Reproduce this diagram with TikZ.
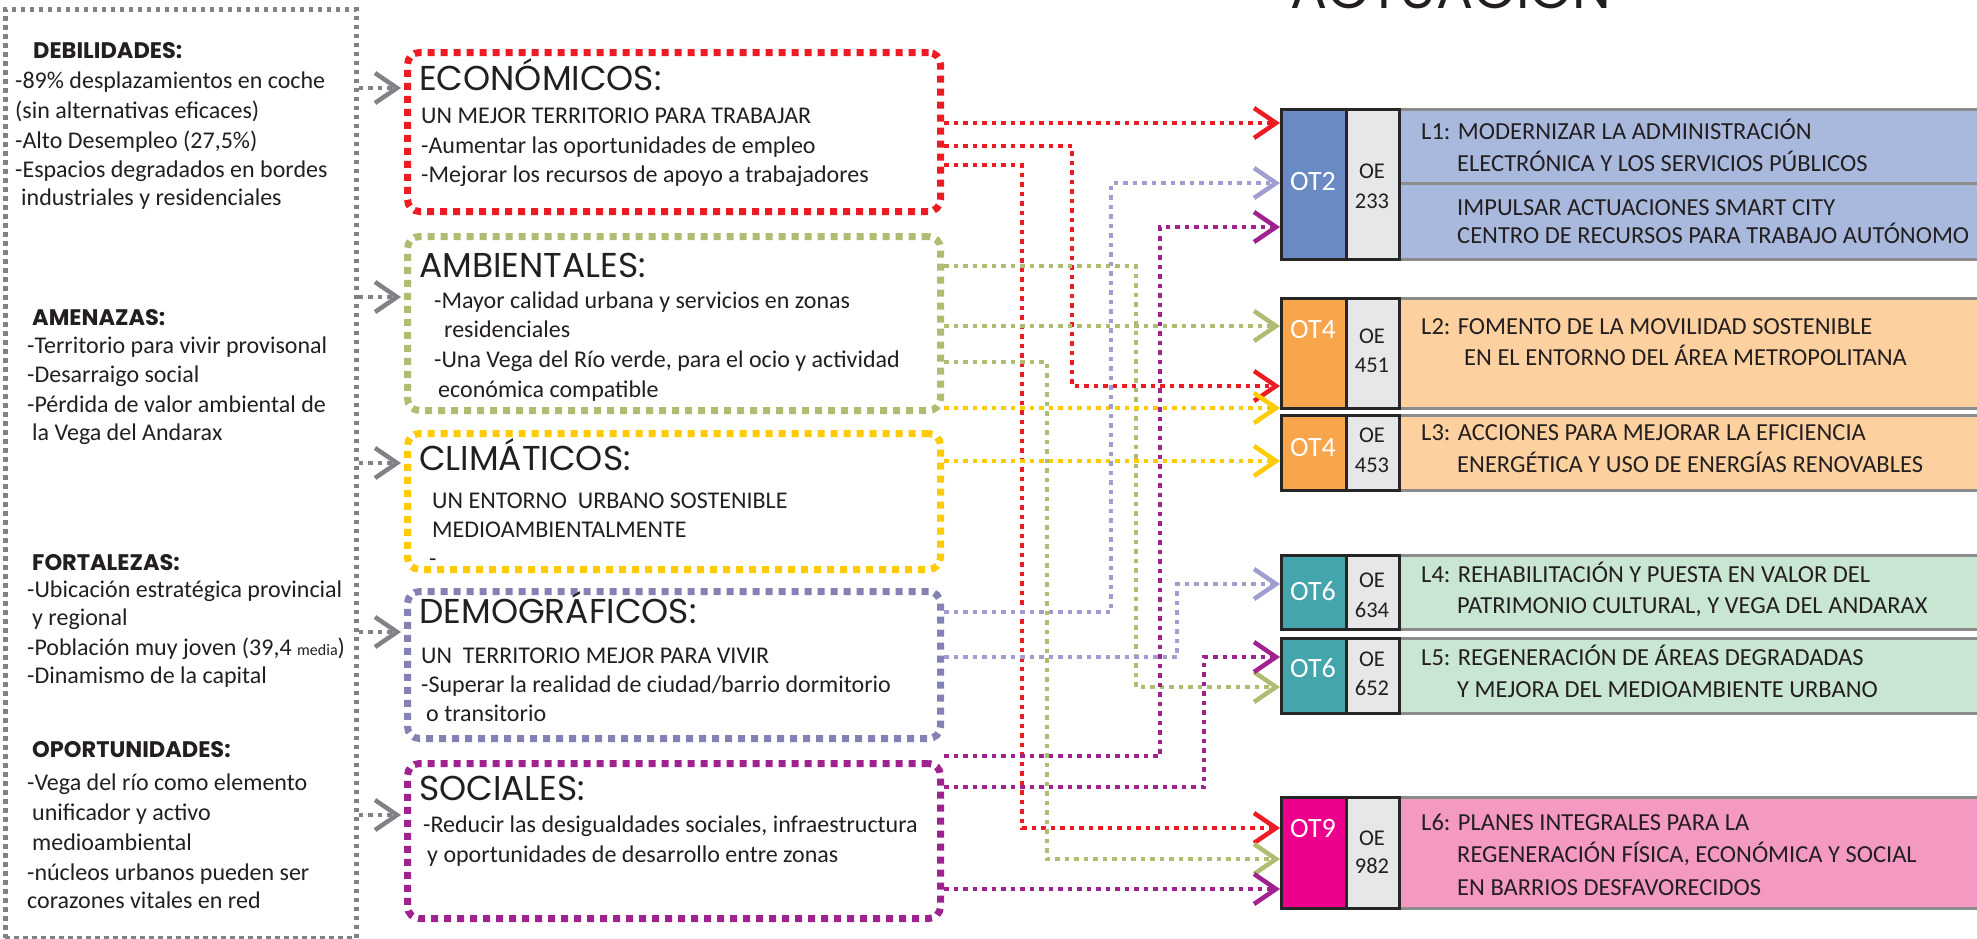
\documentclass[tikz,border=0pt]{standalone}
\usepackage{fontspec}
\setmainfont{Carlito}
\newfontfamily\headfont{Poppins}
\usetikzlibrary{arrows.meta}
\definecolor{cred}{HTML}{ED1C24}
\definecolor{cgreen}{HTML}{AEBD72}
\definecolor{cyellow}{HTML}{FFCB05}
\definecolor{cslate}{HTML}{8482B4}
\definecolor{clav}{HTML}{A09DD0}
\definecolor{cpurple}{HTML}{A0228F}
\definecolor{cgray}{HTML}{808285}
\definecolor{ctext}{HTML}{231F20}
\definecolor{otblue}{HTML}{6A8AC4}
\definecolor{lblue}{HTML}{A9B9DE}
\definecolor{otorange}{HTML}{F8A54B}
\definecolor{lorange}{HTML}{FDD09F}
\definecolor{otteal}{HTML}{44A5AC}
\definecolor{lgreen}{HTML}{C9E6D3}
\definecolor{otmag}{HTML}{EC008C}
\definecolor{lpink}{HTML}{F49AC2}
\definecolor{oegray}{HTML}{E6E7E8}
\definecolor{bordergray}{HTML}{8C8C8C}
\newcommand\bodyf{\fontsize{24}{29}\selectfont}
\newcommand\headf{\headfont\fontsize{34.5}{34.5}\selectfont}
\newcommand\swotf{\headfont\bfseries\fontsize{22.5}{22.5}\selectfont}
\newcommand\descf{\fontsize{24.5}{24.5}\selectfont}
\newcommand\otf{\fontsize{28}{28}\selectfont}
\newcommand\oef{\fontsize{22.5}{22.5}\selectfont}
\begin{document}
\begin{tikzpicture}[x=1pt,y=-1pt,
  txt/.style={anchor=base west,inner sep=0pt,text=ctext,font=\bodyf},
  swot/.style={txt,font=\swotf},
  cathead/.style={txt,font=\headf},
  desc/.style={txt,font=\descf},
  catbox/.style={draw,line width=7pt,dash pattern=on 7pt off 6pt,rounded corners=12pt,inner sep=0pt,anchor=north west,minimum width=533pt},
  conn/.style={line width=4.5pt,dash pattern=on 4.5pt off 5pt,-{Straight Barb[length=22pt,width=30pt,line width=4.5pt]}},
  garrow/.style={conn,draw=cgray,shorten >=3pt},
  cell/.style={draw=black!85,line width=3pt,anchor=north west,inner sep=0pt},
  descbox/.style={draw=bordergray,line width=3pt,anchor=north west,inner sep=0pt,minimum width=600pt},
  otl/.style={text=white,font=\otf,inner sep=0pt},
  oel/.style={text=ctext,font=\oef,anchor=base,inner sep=0pt}
]
\useasboundingbox (0,0) rectangle (1977,938);
\fill[white] (0,0) rectangle (1977,938);

% title (cut at the top)
\node[anchor=base west,inner sep=0pt,text=ctext,font=\headfont\fontsize{55}{55}\selectfont] (title) at (1290,8) {ACTUACIÓN};

% SWOT box
\node[draw=cgray,line width=4.5pt,dash pattern=on 4.5pt off 4.5pt,anchor=north west,inner sep=0pt,minimum width=351pt,minimum height=929pt] (swotbox) at (3,7) {};

\node[swot] (hdeb) at (33,58) {DEBILIDADES:};
\node[txt] (deb1) at (15,88) {-89\% desplazamientos en coche};
\node[txt] (deb2) at (15,118) {(sin alternativas eficaces)};
\node[txt] (deb3) at (15,148) {-Alto Desempleo (27,5\%)};
\node[txt] (deb4) at (15,177) {-Espacios degradados en bordes};
\node[txt] (deb5) at (21,205) {industriales y residenciales};

\node[swot] (hame) at (32,325) {AMENAZAS:};
\node[txt] (ame1) at (27,353) {-Territorio para vivir provisonal};
\node[txt] (ame2) at (27,382) {-Desarraigo social};
\node[txt] (ame3) at (27,412) {-Pérdida de valor ambiental de};
\node[txt] (ame4) at (32,440) {la Vega del Andarax};

\node[swot] (hfor) at (32,570) {FORTALEZAS:};
\node[txt] (for1) at (27,597) {-Ubicación estratégica provincial};
\node[txt] (for2) at (32,625) {y regional};
\node[txt] (for3) at (27,655) {-Población muy joven (39,4 {\fontsize{16}{16}\selectfont media})};
\node[txt] (for4) at (27,683) {-Dinamismo de la capital};

\node[swot] (hopo) at (32,757) {OPORTUNIDADES:};
\node[txt] (opo1) at (27,790) {-Vega del río como elemento};
\node[txt] (opo2) at (32,820) {unificador y activo};
\node[txt] (opo3) at (32,850) {medioambiental};
\node[txt] (opo4) at (27,880) {-núcleos urbanos pueden ser};
\node[txt] (opo5) at (27,908) {corazones vitales en red};

% category boxes
\node[catbox,draw=cred,minimum height=159pt] (econ) at (404,49) {};
\node[catbox,draw=cgreen,minimum height=174pt] (amb) at (404,233) {};
\node[catbox,draw=cyellow,minimum height=136pt] (clim) at (404,430) {};
\node[catbox,draw=cslate,minimum height=147pt] (demo) at (404,588) {};
\node[catbox,draw=cpurple,minimum height=155pt] (soc) at (404,760) {};

\node[cathead] (hecon) at (419,90) {ECONÓMICOS:};
\node[txt] (econ1) at (421,123) {UN MEJOR TERRITORIO PARA TRABAJAR};
\node[txt] (econ2) at (421,153) {-Aumentar las oportunidades de empleo};
\node[txt] (econ3) at (421,182) {-Mejorar los recursos de apoyo a trabajadores};

\node[cathead] (hamb) at (419,277) {AMBIENTALES:};
\node[txt] (amb1) at (434,308) {-Mayor calidad urbana y servicios en zonas};
\node[txt] (amb2) at (444,337) {residenciales};
\node[txt] (amb3) at (434,367) {-Una Vega del Río verde, para el ocio y actividad};
\node[txt] (amb4) at (438,397) {económica compatible};

\node[cathead] (hclim) at (419,470) {CLIMÁTICOS:};
\node[txt] (clim1) at (432,508) {UN ENTORNO\ \ URBANO SOSTENIBLE};
\node[txt] (clim2) at (432,537) {MEDIOAMBIENTALMENTE};
\node[txt] (clim3) at (429,566) {-};

\node[cathead] (hdemo) at (419,623) {DEMOGRÁFICOS:};
\node[txt] (demo1) at (421,663) {UN\ \ TERRITORIO MEJOR PARA VIVIR};
\node[txt] (demo2) at (421,692) {-Superar la realidad de ciudad/barrio dormitorio};
\node[txt] (demo3) at (426,721) {o transitorio};

\node[cathead] (hsoc) at (419,800) {SOCIALES:};
\node[txt] (soc1) at (423,832) {-Reducir las desigualdades sociales, infraestructura};
\node[txt] (soc2) at (427,862) {y oportunidades de desarrollo entre zonas};

% gray arrows
\draw[garrow] (swotbox.east |- 0,88) -- (econ.west |- 0,88);
\draw[garrow] (swotbox.east |- 0,297) -- (amb.west |- 0,297);
\draw[garrow] (swotbox.east |- 0,463) -- (clim.west |- 0,463);
\draw[garrow] (swotbox.east |- 0,632) -- (demo.west |- 0,632);
\draw[garrow] (swotbox.east |- 0,815) -- (soc.west |- 0,815);

% right rows
\node[descbox,fill=lblue,minimum height=150pt] (d1) at (1398,108) {};
\draw[bordergray,line width=3pt] (d1.west |- 0,183) -- (d1.east |- 0,183);
\node[descbox,fill=lorange,minimum height=110pt] (d2) at (1398,297) {};
\node[descbox,fill=lorange,minimum height=75pt] (d3) at (1398,414) {};
\node[descbox,fill=lgreen,minimum height=74pt] (d4) at (1398,554) {};
\node[descbox,fill=lgreen,minimum height=75pt] (d5) at (1398,637) {};
\node[descbox,fill=lpink,minimum height=111pt] (d6) at (1398,796) {};

\node[cell,fill=oegray,minimum width=53pt,minimum height=150pt] (oe1) at (1345,108) {};
\node[cell,fill=oegray,minimum width=53pt,minimum height=110pt] (oe2) at (1345,297) {};
\node[cell,fill=oegray,minimum width=53pt,minimum height=75pt] (oe3) at (1345,414) {};
\node[cell,fill=oegray,minimum width=53pt,minimum height=74pt] (oe4) at (1345,554) {};
\node[cell,fill=oegray,minimum width=53pt,minimum height=75pt] (oe5) at (1345,637) {};
\node[cell,fill=oegray,minimum width=53pt,minimum height=111pt] (oe6) at (1345,796) {};

\node[cell,fill=otblue,minimum width=65pt,minimum height=150pt] (ot2) at (1280,108) {};
\node[cell,fill=otorange,minimum width=65pt,minimum height=110pt] (ot4a) at (1280,297) {};
\node[cell,fill=otorange,minimum width=65pt,minimum height=75pt] (ot4b) at (1280,414) {};
\node[cell,fill=otteal,minimum width=65pt,minimum height=74pt] (ot6a) at (1280,554) {};
\node[cell,fill=otteal,minimum width=65pt,minimum height=75pt] (ot6b) at (1280,637) {};
\node[cell,fill=otmag,minimum width=65pt,minimum height=111pt] (ot9) at (1280,796) {};

\node[otl] (ot2l) at (1313,182) {OT2};
\node[otl] (ot4al) at (1313,330) {OT4};
\node[otl] (ot4bl) at (1313,447) {OT4};
\node[otl] (ot6al) at (1313,591) {OT6};
\node[otl] (ot6bl) at (1313,668) {OT6};
\node[otl] (ot9l) at (1313,828) {OT9};

\node[oel] (oe1a) at (1372,178) {OE};
\node[oel] (oe1b) at (1372,208) {233};
\node[oel] (oe2a) at (1372,343) {OE};
\node[oel] (oe2b) at (1372,372) {451};
\node[oel] (oe3a) at (1372,442) {OE};
\node[oel] (oe3b) at (1372,472) {453};
\node[oel] (oe4a) at (1372,587) {OE};
\node[oel] (oe4b) at (1372,617) {634};
\node[oel] (oe5a) at (1372,666) {OE};
\node[oel] (oe5b) at (1372,695) {652};
\node[oel] (oe6a) at (1372,845) {OE};
\node[oel] (oe6b) at (1372,873) {982};

\node[desc] (l1a) at (1421,139) {L1: MODERNIZAR LA ADMINISTRACIÓN};
\node[desc] (l1b) at (1457,171) {ELECTRÓNICA Y LOS SERVICIOS PÚBLICOS};
\node[desc] (l1c) at (1457,215) {IMPULSAR ACTUACIONES SMART CITY};
\node[desc] (l1d) at (1457,243) {CENTRO DE RECURSOS PARA TRABAJO AUTÓNOMO};
\node[desc] (l2a) at (1421,334) {L2: FOMENTO DE LA MOVILIDAD SOSTENIBLE};
\node[desc] (l2b) at (1464,365) {EN EL ENTORNO DEL ÁREA METROPOLITANA};
\node[desc] (l3a) at (1421,440) {L3: ACCIONES PARA MEJORAR LA EFICIENCIA};
\node[desc] (l3b) at (1457,472) {ENERGÉTICA Y USO DE ENERGÍAS RENOVABLES};
\node[desc] (l4a) at (1421,582) {L4: REHABILITACIÓN Y PUESTA EN VALOR DEL};
\node[desc] (l4b) at (1457,613) {PATRIMONIO CULTURAL, Y VEGA DEL ANDARAX};
\node[desc] (l5a) at (1421,665) {L5: REGENERACIÓN DE ÁREAS DEGRADADAS};
\node[desc] (l5b) at (1457,697) {Y MEJORA DEL MEDIOAMBIENTE URBANO};
\node[desc] (l6a) at (1421,830) {L6: PLANES INTEGRALES PARA LA};
\node[desc] (l6b) at (1457,862) {REGENERACIÓN FÍSICA, ECONÓMICA Y SOCIAL};
\node[desc] (l6c) at (1457,895) {EN BARRIOS DESFAVORECIDOS};

% connectors
\draw[conn,draw=cred] (econ.east |- 0,123) -- (ot2.west |- 0,123);
\draw[conn,draw=cred] (econ.east |- 0,146) -- (1072,146) -- (1072,386) -- (ot4a.west |- 0,386);
\draw[conn,draw=cred] (econ.east |- 0,165) -- (1022,165) -- (1022,828) -- (ot9.west |- 0,828);

\draw[conn,draw=cgreen] (amb.east |- 0,266) -- (1136,266) -- (1136,687) -- (ot6b.west |- 0,687);
\draw[conn,draw=cgreen] (amb.east |- 0,326) -- (ot4a.west |- 0,326);
\draw[conn,draw=cgreen] (amb.east |- 0,362) -- (1047,362) -- (1047,859) -- (ot9.west |- 0,859);

\draw[conn,draw=cyellow] (clim.east |- 0,408) -- (ot4a.west |- 0,408);
\draw[conn,draw=cyellow] (clim.east |- 0,461) -- (ot4b.west |- 0,461);

\draw[conn,draw=clav] (demo.east |- 0,612) -- (1111,612) -- (1111,183) -- (ot2.west |- 0,183);
\draw[conn,draw=clav] (demo.east |- 0,657) -- (1177,657) -- (1177,584) -- (ot6a.west |- 0,584);

\draw[conn,draw=cpurple] (soc.east |- 0,756) -- (1160,756) -- (1160,227) -- (ot2.west |- 0,227);
\draw[conn,draw=cpurple] (soc.east |- 0,787) -- (1204,787) -- (1204,657) -- (ot6b.west |- 0,657);
\draw[conn,draw=cpurple] (soc.east |- 0,889) -- (ot9.west |- 0,889);
\end{tikzpicture}
\end{document}
